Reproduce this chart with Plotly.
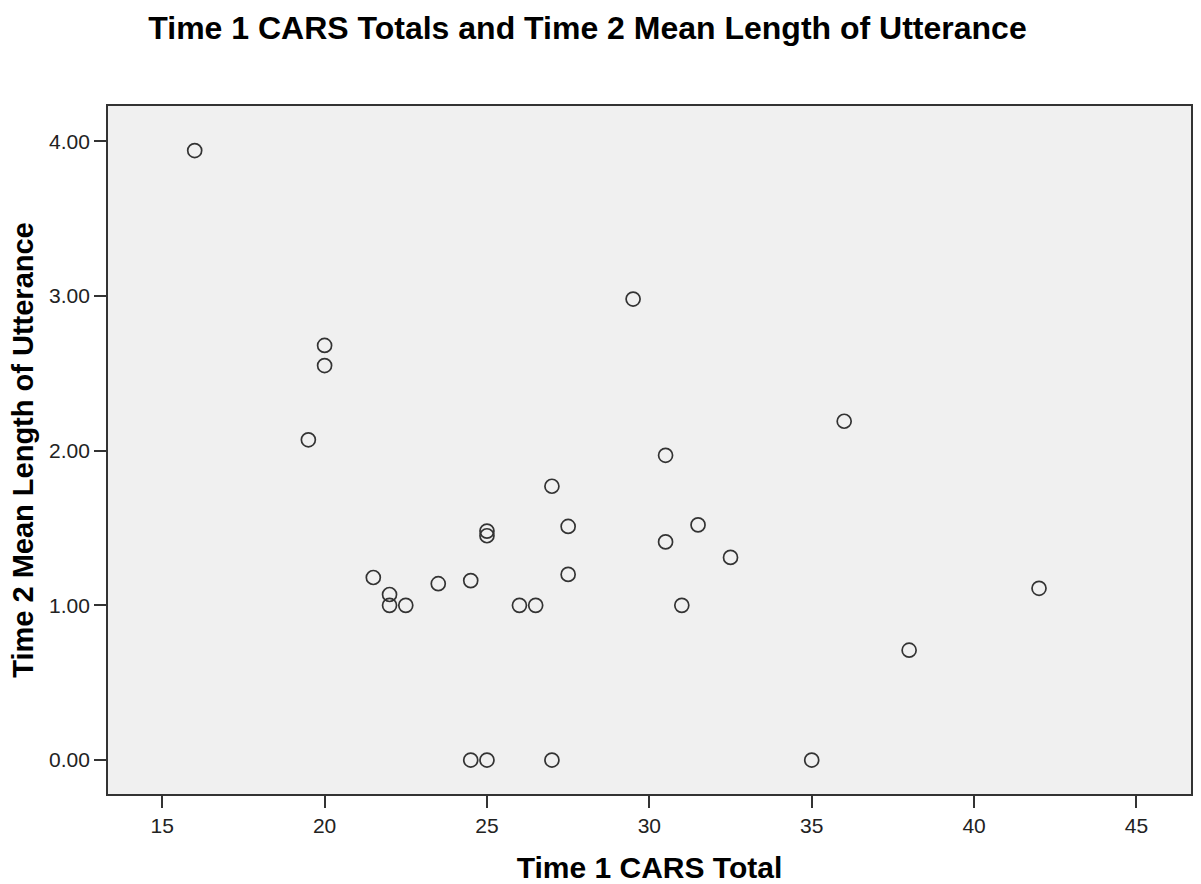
import plotly.graph_objects as go

cars_total = [16, 29.5, 20, 20, 19.5, 36, 30.5, 27, 25, 25, 27.5, 31.5, 30.5, 32.5,
              27.5, 21.5, 22, 22, 22.5, 23.5, 24.5, 26, 26.5, 31, 42, 38,
              24.5, 25, 27, 35]
mlu_time2 = [3.94, 2.98, 2.68, 2.55, 2.07, 2.19, 1.97, 1.77, 1.48, 1.45, 1.51, 1.52, 1.41, 1.31,
             1.20, 1.18, 1.07, 1.00, 1.00, 1.14, 1.16, 1.00, 1.00, 1.00, 1.11, 0.71,
             0.00, 0.00, 0.00, 0.00]

x_ticks = [15, 20, 25, 30, 35, 40, 45]
y_ticks = [0, 1, 2, 3, 4]

fig = go.Figure()
fig.add_trace(go.Scatter(
    x=cars_total, y=mlu_time2, mode="markers",
    marker=dict(symbol="circle-open", size=14, color="#333333", line=dict(width=1.7, color="#333333")),
    showlegend=False, hoverinfo="x+y",
))

font_fam = "Liberation Sans, Arial, sans-serif"
fig.update_layout(
    width=1201, height=884,
    paper_bgcolor="white", plot_bgcolor="#f0f0f0",
    margin=dict(l=107.5, r=10, t=105.7, b=89.7, autoexpand=False),
    title=dict(text="<b>Time 1 CARS Totals and Time 2 Mean Length of Utterance</b>",
               x=587.5 / 1201, xanchor="center", y=1 - 28 / 884, yanchor="middle", xref="container", yref="container",
               font=dict(family=font_fam, size=32, color="#000000")),
    font=dict(family=font_fam, color="#222222"),
)
fig.update_xaxes(
    range=[13.33, 46.68], tickvals=x_ticks, ticktext=[str(v) for v in x_ticks],
    showgrid=False, zeroline=False, showline=True, mirror=True, linecolor="#333333", linewidth=1.7,
    ticks="outside", ticklen=12, tickwidth=1.7, tickcolor="#333333", automargin=False,
    tickfont=dict(family=font_fam, size=21, color="#222222"),
    title=dict(text="<b>Time 1 CARS Total</b>", font=dict(family=font_fam, size=30, color="#000000"), standoff=21),
)
fig.update_yaxes(
    range=[-0.2196, 4.228], tickvals=y_ticks, ticktext=["%.2f" % v for v in y_ticks],
    showgrid=False, zeroline=False, showline=True, mirror=True, linecolor="#333333", linewidth=1.7,
    ticks="outside", ticklen=12, tickwidth=1.7, tickcolor="#333333", automargin=False,
    tickfont=dict(family=font_fam, size=21, color="#222222"),
    title=dict(text="<b>Time 2 Mean Length of Utterance</b>", font=dict(family=font_fam, size=29, color="#000000"), standoff=7),
)

fig.write_html("out.html")
